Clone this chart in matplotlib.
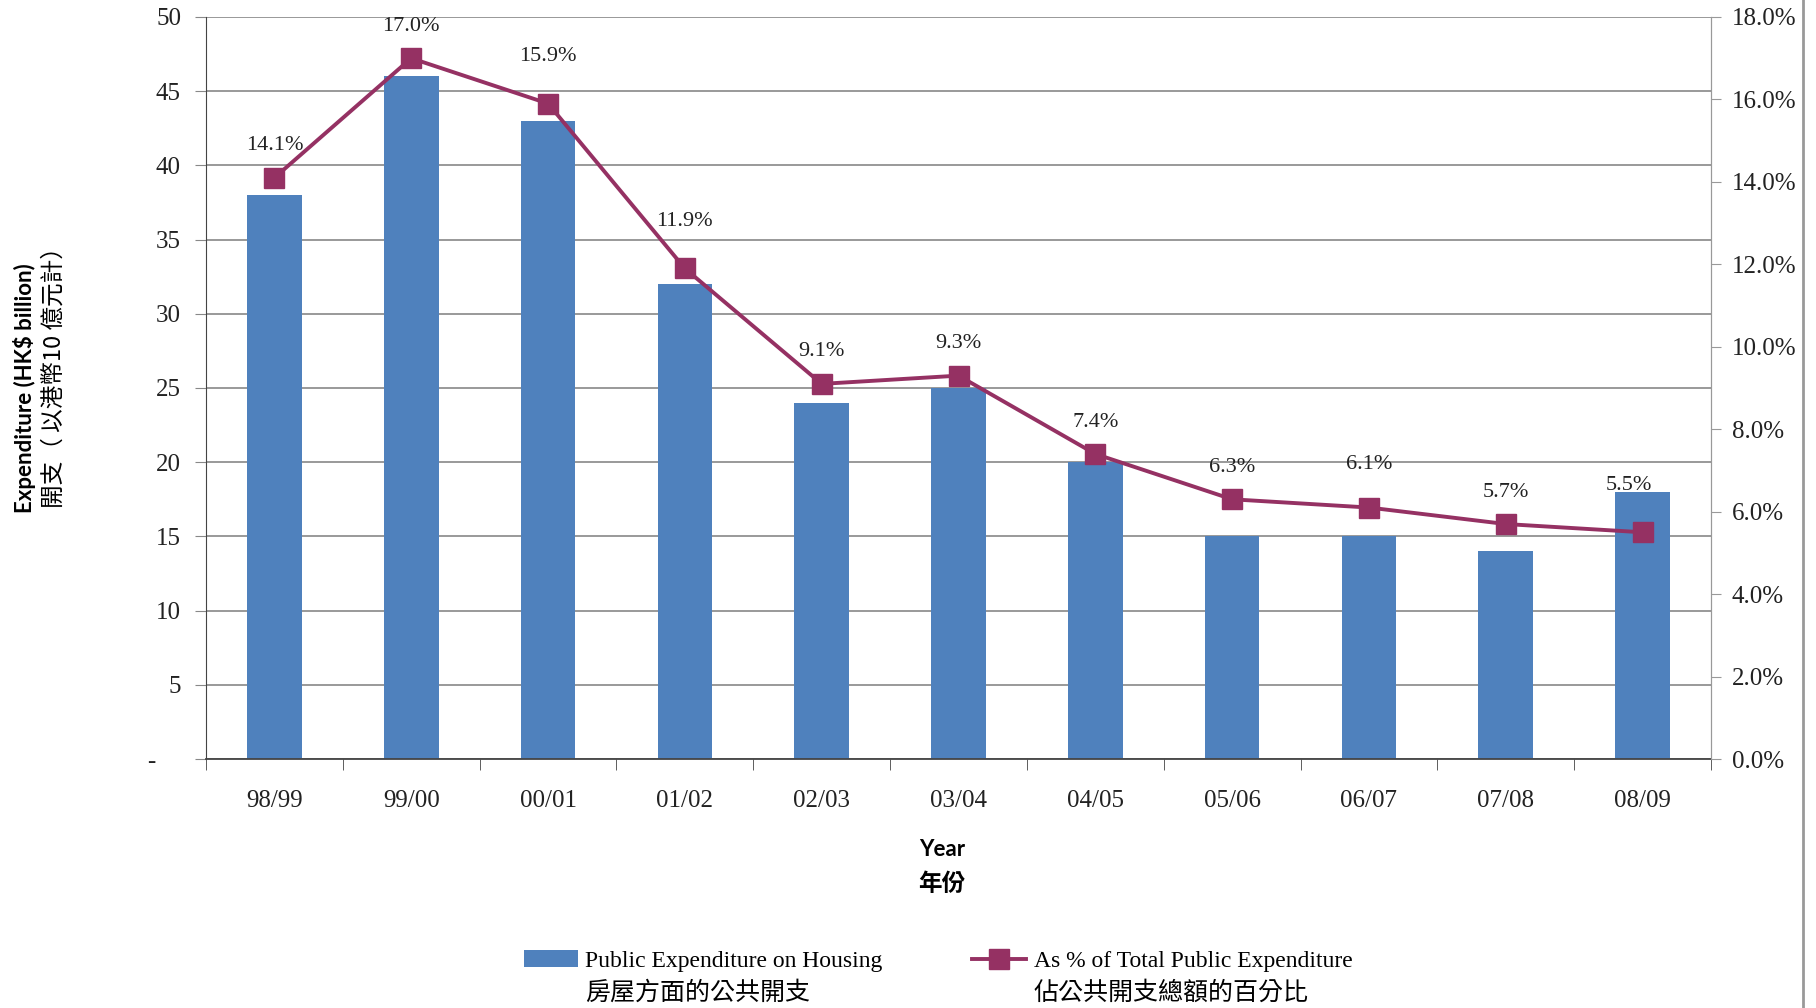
import numpy as np
import matplotlib.pyplot as plt
from matplotlib.lines import Line2D

years = ["98/99", "99/00", "00/01", "01/02", "02/03", "03/04",
         "04/05", "05/06", "06/07", "07/08", "08/09"]
expenditure = [38, 46, 43, 32, 24, 25, 20, 15, 15, 14, 18]
pct_total = [14.1, 17.0, 15.9, 11.9, 9.1, 9.3, 7.4, 6.3, 6.1, 5.7, 5.5]

legend_en = ["Public Expenditure on Housing", "As % of Total Public Expenditure"]
legend_zh = ["房屋方面的公共開支", "佔公共開支總額的百分比"]

# where the data labels sit relative to their markers (points)
label_dx = [0, 0, 0, 0, 0, 0, 0, 0, 0, 0, -10]
label_dy = [23, 23, 34, 34, 23, 23, 23, 23, 31, 23, 34]

bar_col = "#4F81BD"
line_col = "#953163"
serif = ["Liberation Serif", "Noto Sans CJK TC"]
cjk = ["Noto Sans CJK TC"]
W, H = 1816, 1008

fig = plt.figure(figsize=(W/100, H/100), dpi=100)
ax = fig.add_axes([206/W, 1 - 759/H, (1711-206)/W, (759-17)/H])

x = np.arange(len(years))
ax.bar(x, expenditure, width=0.40, color=bar_col, zorder=2, label=legend_en[0])
ax.set_xlim(-0.5, len(years) - 0.5)
ax.set_ylim(0, 50)
ax.set_yticks(np.arange(0, 51, 5))
ax.set_yticklabels(["-    "] + [str(v) for v in range(5, 51, 5)], family=serif, fontsize=18, color="#222222")
ax.grid(axis="y", color="#888888", linewidth=1.2, zorder=0)
ax.set_axisbelow(True)

ax.set_xticks(x)
ax.set_xticklabels(years, family=serif, fontsize=18, color="#222222")
ax.tick_params(axis="x", length=0, pad=22)
ax.set_xticks(np.arange(-0.5, len(years), 1), minor=True)
ax.tick_params(axis="x", which="minor", length=8, color="#444444", direction="out")
ax.tick_params(axis="y", length=8, color="#888888", direction="out", pad=10)

ax.spines["top"].set_visible(False)
ax.spines["left"].set_color("#444444")
ax.spines["bottom"].set_color("#444444")
ax.spines["bottom"].set_linewidth(1.3)
ax.spines["right"].set_color("#999999")

ax2 = ax.twinx()
ax2.plot(x, pct_total, color=line_col, linewidth=2.8, marker="s", markersize=14, label=legend_en[1])
ax2.set_ylim(0, 18)
ax2.set_yticks(np.arange(0, 18.1, 2))
ax2.set_yticklabels([f"{v:.1f}%" for v in np.arange(0, 18.1, 2)], family=serif, fontsize=18, color="#222222")
ax2.tick_params(axis="y", length=7, color="#999999", direction="out", pad=8)
ax2.spines["top"].set_visible(False)
ax2.spines["right"].set_color("#999999")
ax2.spines["left"].set_visible(False)
ax2.spines["bottom"].set_visible(False)

for xi, p, dx, dy in zip(x, pct_total, label_dx, label_dy):
    ax2.annotate(f"{p:.1f}%", (xi, p), xytext=(dx, dy), textcoords="offset points",
                 ha="center", va="center", family=serif, fontsize=16, color="#222222")

fig.text(25/W, 1 - 388/H, "Expenditure (HK$ billion)", rotation=90, ha="center", va="center",
         family=["Lato", "DejaVu Sans"], fontsize=16, fontweight="bold")
fig.text(54/W, 1 - 372/H, "開支（ 以港幣10 億元計）", rotation=90, ha="center", va="center",
         family=cjk, fontsize=17)

fig.text(942/W, 1 - 849/H, "Year", ha="center", va="center",
         family=["Lato", "DejaVu Sans"], fontsize=16, fontweight="bold")
fig.text(942/W, 1 - 884/H, "年份", ha="center", va="center",
         family=cjk, fontsize=17, fontweight="bold")

h1, _ = ax.get_legend_handles_labels()
h2, _ = ax2.get_legend_handles_labels()
leg = fig.legend(h1 + h2, legend_en, loc="center", bbox_to_anchor=(938/W, 1 - 961/H), ncol=2,
                 frameon=False, prop={"family": serif, "size": 17}, columnspacing=3.8,
                 handlelength=2.3, handletextpad=0.3, borderaxespad=0)

fig.canvas.draw()
for t, zh in zip(leg.get_texts(), legend_zh):
    bb = t.get_window_extent()
    fig.text(bb.x0/W, 1 - 993/H, zh, ha="left", va="center", family=cjk, fontsize=18)

fig.add_artist(Line2D([1803/W, 1803/W], [0, 1], transform=fig.transFigure,
                      color="#999999", linewidth=2))

fig.savefig("out.png", dpi=100)
